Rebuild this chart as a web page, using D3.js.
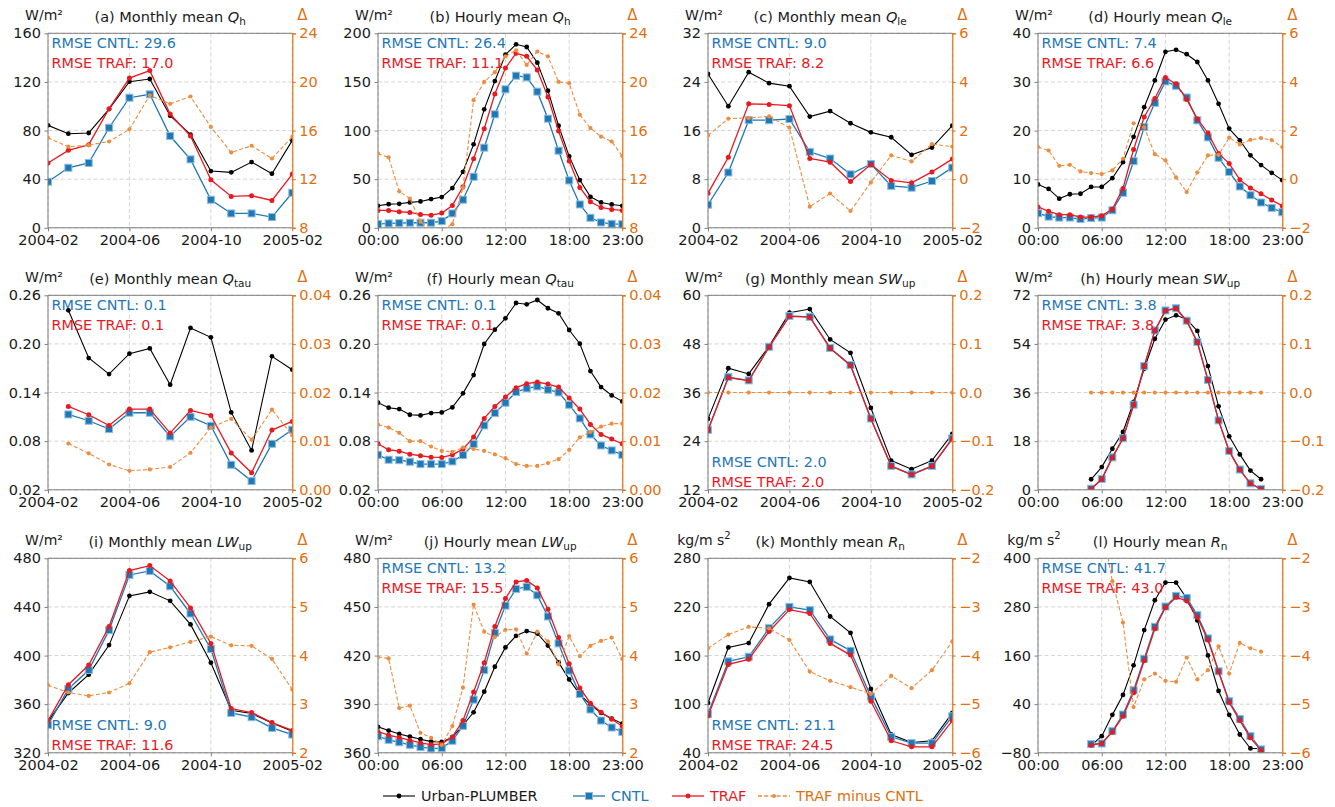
<!DOCTYPE html>
<html>
<head>
<meta charset="utf-8">
<script src="https://cdn.jsdelivr.net/npm/d3@7"></script>
<style>
  body { margin: 0; background: #fff; }
  svg text { font-family: "DejaVu Sans", sans-serif; }
</style>
</head>
<body>
<svg id="chart" width="1335" height="807"></svg>
<script>
// ---- categories --------------------------------------------------------
const months = ['2004-02','2004-03','2004-04','2004-05','2004-06','2004-07','2004-08',
                '2004-09','2004-10','2004-11','2004-12','2005-01','2005-02'];
const hours = d3.range(24).map(h => String(h).padStart(2, '0') + ':00');
const monthTicks = ['2004-02','2004-06','2004-10','2005-02'];
const hourTicks = ['00:00','06:00','12:00','18:00','23:00'];

// ---- sensible heat Q_h ---------------------------------------------------
const qhMonObs  = [84.3, 77.4, 78.0, 97.7, 120.2, 122.4, 92.2, 76.6, 46.7, 45.6, 54.1, 44.5, 71.9];
const qhMonCntl = [37.9, 49.4, 53.3, 82.3, 107.0, 109.8, 75.5, 56.3, 23.1, 11.8, 11.8, 8.8, 28.8];
const qhMonTraf = [53.3, 63.7, 68.4, 98.0, 123.2, 129.3, 93.6, 75.5, 39.5, 25.8, 26.4, 22.5, 44.2];
const qhMonDiff = [15.4, 14.67, 14.8, 15.1, 16.1, 18.9, 18.2, 18.8, 16.3, 14.2, 14.75, 13.7, 15.5];

const qhHourObs  = [22.6, 24.3, 24.7, 26.1, 27.1, 29.5, 31.6, 40.8, 57.6, 85.8, 121.8, 150.9, 178.0, 188.7, 185.9, 169.8, 141.0, 105.0, 73.4, 49.1, 31.9, 26.1, 24.0, 22.6];
const qhHourCntl = [3.8, 4.5, 4.8, 5.2, 5.2, 5.2, 6.9, 14.8, 28.9, 52.5, 82.4, 116.7, 142.4, 156.4, 154.7, 140.0, 112.2, 79.3, 48.7, 24.0, 10.3, 5.5, 4.1, 3.8];
const qhHourTraf = [17.9, 17.9, 16.5, 15.8, 13.7, 13.0, 15.1, 23.0, 42.2, 71.0, 101.9, 137.6, 164.3, 179.4, 176.3, 162.2, 134.4, 99.5, 68.6, 41.5, 26.8, 20.9, 18.9, 17.9];
const qhHourDiff = [14.1, 13.8, 11.0, 10.4, 8.5, 7.7, 7.8, 8.3, 11.3, 18.5, 20.0, 20.8, 22.1, 22.6, 21.4, 22.5, 22.1, 20.0, 19.9, 17.3, 16.2, 15.5, 15.1, 13.9];

// ---- latent heat Q_le ----------------------------------------------------
const qleMonObs  = [25.3, 20.0, 25.6, 23.8, 23.3, 18.3, 19.2, 17.2, 15.7, 14.9, 12.0, 13.2, 16.8];
const qleMonCntl = [3.8, 9.1, 17.7, 17.7, 17.9, 12.5, 11.4, 8.8, 10.5, 6.9, 6.6, 7.7, 9.9];
const qleMonTraf = [5.7, 11.6, 20.4, 20.3, 20.1, 11.4, 10.8, 7.6, 10.4, 7.8, 7.4, 9.2, 11.3];
const qleMonDiff = [1.8, 2.49, 2.52, 2.58, 2.12, -1.13, -0.59, -1.31, -0.13, 0.98, 0.73, 1.44, 1.34];

const qleHourObs  = [8.9, 8.0, 6.0, 6.9, 7.0, 8.4, 8.4, 10.2, 13.5, 18.7, 24.8, 30.3, 36.2, 36.6, 35.7, 34.1, 30.3, 25.5, 20.4, 18.0, 14.9, 12.9, 11.3, 9.8];
const qleHourCntl = [3.0, 2.3, 2.1, 2.1, 1.8, 2.0, 2.1, 3.6, 7.2, 13.7, 20.7, 25.7, 30.1, 29.2, 26.8, 22.1, 18.6, 14.4, 11.5, 8.5, 6.7, 5.2, 4.1, 3.2];
const qleHourTraf = [4.3, 3.4, 2.7, 2.7, 2.2, 2.2, 2.5, 3.8, 8.1, 16.1, 22.8, 26.6, 30.9, 29.6, 26.4, 22.4, 19.5, 15.3, 13.2, 9.9, 8.2, 7.0, 5.7, 4.5];
const qleHourDiff = [1.32, 1.18, 0.55, 0.59, 0.32, 0.25, 0.21, 0.36, 0.84, 2.3, 2.13, 1.03, 0.77, 0.07, -0.53, 0.28, 0.98, 1.0, 1.71, 1.43, 1.62, 1.69, 1.61, 1.32];

// ---- momentum flux Q_tau -------------------------------------------------
const qtauMonObs  = [null, 0.2415, 0.1826, 0.1628, 0.188, 0.1945, 0.1497, 0.2197, 0.2081, 0.1155, 0.0686, 0.1847, 0.1682];
const qtauMonCntl = [null, 0.113, 0.1052, 0.0949, 0.1151, 0.1151, 0.0859, 0.1101, 0.099, 0.0509, 0.0307, 0.0768, 0.0941];
const qtauMonTraf = [null, 0.1229, 0.1126, 0.0994, 0.1196, 0.1196, 0.09, 0.118, 0.1118, 0.0653, 0.041, 0.0937, 0.1044];
const qtauMonDiff = [null, 0.0095, 0.0075, 0.0052, 0.0039, 0.0042, 0.0047, 0.0076, 0.0128, 0.0146, 0.0103, 0.0165, 0.0112];

const qtauHourObs  = [0.1274, 0.1213, 0.1196, 0.1126, 0.1118, 0.1147, 0.1155, 0.1217, 0.139, 0.1616, 0.1999, 0.2176, 0.2316, 0.2505, 0.2489, 0.2542, 0.244, 0.2378, 0.2172, 0.2003, 0.1665, 0.1468, 0.1365, 0.1291];
const qtauHourCntl = [0.0632, 0.0571, 0.0566, 0.0546, 0.0517, 0.0517, 0.0517, 0.055, 0.0628, 0.0764, 0.0994, 0.1147, 0.1274, 0.1406, 0.1451, 0.1476, 0.1435, 0.1402, 0.1249, 0.1081, 0.0883, 0.0747, 0.0686, 0.0632];
const qtauHourTraf = [0.0768, 0.0694, 0.0677, 0.064, 0.062, 0.0603, 0.0599, 0.0632, 0.0702, 0.085, 0.1081, 0.1229, 0.1344, 0.146, 0.1509, 0.153, 0.1505, 0.1468, 0.1332, 0.1196, 0.1007, 0.0883, 0.0826, 0.0768];
const qtauHourDiff = [0.0134, 0.0128, 0.0117, 0.0100, 0.0100, 0.0089, 0.0080, 0.0078, 0.0087, 0.0084, 0.0080, 0.0073, 0.0065, 0.0053, 0.0049, 0.0049, 0.0055, 0.0063, 0.0082, 0.0108, 0.0119, 0.0130, 0.0136, 0.0136];

// ---- upward shortwave SW_up ----------------------------------------------
const swMonObs  = [29.5, 42.0, 40.6, 47.4, 55.7, 56.6, 49.1, 45.8, 32.2, 19.2, 17.1, 19.2, 25.8];
const swMonCntl = [26.8, 39.8, 39.0, 47.3, 54.9, 54.7, 47.0, 42.8, 29.6, 17.9, 15.8, 17.9, 24.7];
const swMonTraf = [26.7, 39.7, 38.9, 47.2, 54.8, 54.6, 46.9, 42.7, 29.5, 17.8, 15.7, 17.8, 24.6];
const swMonDiff = [0.0, 0.0, 0.0, 0.0, 0.0, 0.0, 0.0, 0.0, 0.0, 0.0, 0.0, 0.0, 0.0];

const swHourObs  = [null, null, null, null, null, 3.9, 8.4, 15.2, 21.4, 32.5, 44.8, 55.9, 63.0, 64.6, 63.1, 58.8, 45.8, 30.9, 19.8, 13.1, 7.1, 3.9, null, null];
const swHourCntl = [null, null, null, null, null, 0.4, 4.0, 12.0, 19.1, 31.5, 45.8, 59.0, 66.4, 67.2, 62.6, 54.7, 40.7, 25.7, 14.4, 7.5, 2.4, 0.3, null, null];
const swHourTraf = [null, null, null, null, null, 0.3, 3.9, 11.9, 19.0, 31.4, 45.7, 58.9, 66.3, 67.1, 62.5, 54.6, 40.6, 25.6, 14.3, 7.4, 2.3, 0.2, null, null];
const swHourDiff = [null, null, null, null, null, 0.0, 0.0, 0.0, 0.0, 0.0, 0.0, 0.0, 0.0, 0.0, 0.0, 0.0, 0.0, 0.0, 0.0, 0.0, 0.0, 0.0, null, null];

// ---- upward longwave LW_up -----------------------------------------------
const lwMonObs  = [345.7, 369.2, 384.3, 408.6, 449.1, 452.4, 445.0, 425.6, 394.1, 355.0, 352.3, 344.6, 337.8];
const lwMonCntl = [343.0, 372.5, 388.1, 420.9, 466.3, 469.6, 457.0, 434.6, 405.4, 352.8, 349.3, 340.5, 335.0];
const lwMonTraf = [346.5, 376.0, 392.2, 423.9, 469.9, 474.0, 461.4, 439.2, 410.0, 356.4, 353.1, 344.9, 338.4];
const lwMonDiff = [3.39, 3.24, 3.17, 3.24, 3.43, 4.07, 4.17, 4.28, 4.39, 4.21, 4.2, 3.93, 3.3];

const lwHourObs  = [376.0, 373.7, 371.6, 370.0, 368.4, 366.9, 366.7, 369.6, 377.0, 385.0, 397.7, 413.1, 425.0, 432.2, 435.1, 433.6, 426.2, 415.8, 405.3, 396.1, 389.7, 384.6, 381.1, 378.0];
const lwHourCntl = [370.2, 368.0, 366.5, 364.9, 363.5, 362.7, 362.9, 367.4, 376.6, 392.8, 411.0, 434.0, 450.8, 461.1, 462.4, 457.2, 444.1, 427.5, 410.7, 396.3, 386.7, 379.9, 375.6, 372.9];
const lwHourTraf = [373.1, 370.9, 369.4, 367.8, 366.1, 365.1, 365.5, 369.8, 379.9, 397.5, 415.6, 437.9, 455.2, 465.4, 466.3, 461.7, 448.6, 431.2, 415.0, 400.0, 390.6, 385.0, 380.7, 376.4];
const lwHourDiff = [3.97, 3.94, 2.92, 2.97, 2.41, 2.31, 2.16, 2.55, 3.34, 5.05, 4.49, 4.38, 4.53, 4.54, 4.04, 4.49, 4.29, 3.82, 4.4, 3.99, 4.2, 4.3, 4.37, 3.93];

// ---- net radiation R_n ---------------------------------------------------
const rnMonObs  = [101.5, 170.0, 175.4, 223.4, 255.8, 250.9, 208.2, 188.1, 118.8, 62.6, 52.7, 54.8, 89.2];
const rnMonCntl = [88.0, 152.8, 158.5, 193.8, 220.1, 216.0, 179.9, 165.9, 109.3, 59.7, 51.9, 51.9, 85.1];
const rnMonTraf = [85.4, 149.1, 155.3, 189.7, 216.7, 211.9, 175.0, 160.6, 103.6, 54.8, 47.4, 47.4, 79.8];
const rnMonDiff = [-3.85, -3.57, -3.41, -3.44, -3.68, -4.33, -4.52, -4.65, -4.79, -4.42, -4.67, -4.3, -3.71];

const rnHourObs  = [null, null, null, null, null, -61.9, -38.9, 13.6, 62.8, 135.9, 222.8, 296.6, 340.1, 340.1, 300.7, 246.6, 160.4, 72.6, 13.6, -34.8, -69.3, -69.3, null, null];
const rnHourCntl = [null, null, null, null, null, -58.6, -57.0, -26.6, 14.4, 74.3, 152.2, 231.0, 281.0, 307.3, 302.4, 259.7, 202.3, 121.1, 47.2, 3.7, -38.9, -71.7, null, null];
const rnHourTraf = [null, null, null, null, null, -61.1, -57.0, -29.1, 10.3, 68.5, 147.3, 226.0, 278.5, 303.9, 294.9, 254.8, 198.1, 120.2, 43.9, -0.4, -43.0, -74.2, null, null];
const rnHourDiff = [null, null, null, null, null, -0.5, -1.3, -2.47, -3.32, -5.06, -4.49, -4.37, -4.52, -4.54, -4.04, -4.49, -4.3, -3.81, -4.37, -3.74, -3.85, -3.92, null, null];

// ---- error scores (CNTL, TRAF) -----------------------------------------
const rmseQhMon = [29.6, 17.0], rmseQhHour = [26.4, 11.1];
const rmseQleMon = [9.0, 8.2], rmseQleHour = [7.4, 6.6];
const rmseQtauMon = [0.1, 0.1], rmseQtauHour = [0.1, 0.1];
const rmseSwMon = [2.0, 2.0], rmseSwHour = [3.8, 3.8];
const rmseLwMon = [9.0, 11.6], rmseLwHour = [13.2, 15.5];
const rmseRnMon = [21.1, 24.5], rmseRnHour = [41.7, 43.0];

// ---- panel definitions -------------------------------------------------
const panels = [
  { tag: '(a) Monthly mean ', sym: 'Q', sub: 'h', unit: 'W', kind: 'month', yDom: [0, 160], yTicks: [0, 40, 80, 120, 160], yFmt: 'd', rDom: [8, 24], rTicks: [8, 12, 16, 20, 24], rFmt: 'd', s: [qhMonObs, qhMonCntl, qhMonTraf, qhMonDiff], rmse: rmseQhMon, rmseAt: 'top' },
  { tag: '(b) Hourly mean ', sym: 'Q', sub: 'h', unit: 'W', kind: 'hour', yDom: [0, 200], yTicks: [0, 50, 100, 150, 200], yFmt: 'd', rDom: [8, 24], rTicks: [8, 12, 16, 20, 24], rFmt: 'd', s: [qhHourObs, qhHourCntl, qhHourTraf, qhHourDiff], rmse: rmseQhHour, rmseAt: 'top' },
  { tag: '(c) Monthly mean ', sym: 'Q', sub: 'le', unit: 'W', kind: 'month', yDom: [0, 32], yTicks: [0, 8, 16, 24, 32], yFmt: 'd', rDom: [-2, 6], rTicks: [-2, 0, 2, 4, 6], rFmt: 'd', s: [qleMonObs, qleMonCntl, qleMonTraf, qleMonDiff], rmse: rmseQleMon, rmseAt: 'top' },
  { tag: '(d) Hourly mean ', sym: 'Q', sub: 'le', unit: 'W', kind: 'hour', yDom: [0, 40], yTicks: [0, 10, 20, 30, 40], yFmt: 'd', rDom: [-2, 6], rTicks: [-2, 0, 2, 4, 6], rFmt: 'd', s: [qleHourObs, qleHourCntl, qleHourTraf, qleHourDiff], rmse: rmseQleHour, rmseAt: 'top' },
  { tag: '(e) Monthly mean ', sym: 'Q', sub: 'tau', unit: 'W', kind: 'month', yDom: [0.02, 0.26], yTicks: [0.02, 0.08, 0.14, 0.20, 0.26], yFmt: '.2f', rDom: [0, 0.04], rTicks: [0, 0.01, 0.02, 0.03, 0.04], rFmt: '.2f', s: [qtauMonObs, qtauMonCntl, qtauMonTraf, qtauMonDiff], rmse: rmseQtauMon, rmseAt: 'top' },
  { tag: '(f) Hourly mean ', sym: 'Q', sub: 'tau', unit: 'W', kind: 'hour', yDom: [0.02, 0.26], yTicks: [0.02, 0.08, 0.14, 0.20, 0.26], yFmt: '.2f', rDom: [0, 0.04], rTicks: [0, 0.01, 0.02, 0.03, 0.04], rFmt: '.2f', s: [qtauHourObs, qtauHourCntl, qtauHourTraf, qtauHourDiff], rmse: rmseQtauHour, rmseAt: 'top' },
  { tag: '(g) Monthly mean ', sym: 'SW', sub: 'up', unit: 'W', kind: 'month', yDom: [12, 60], yTicks: [12, 24, 36, 48, 60], yFmt: 'd', rDom: [-0.2, 0.2], rTicks: [-0.2, -0.1, 0, 0.1, 0.2], rFmt: '.1f', s: [swMonObs, swMonCntl, swMonTraf, swMonDiff], rmse: rmseSwMon, rmseAt: 'bottom' },
  { tag: '(h) Hourly mean ', sym: 'SW', sub: 'up', unit: 'W', kind: 'hour', yDom: [0, 72], yTicks: [0, 18, 36, 54, 72], yFmt: 'd', rDom: [-0.2, 0.2], rTicks: [-0.2, -0.1, 0, 0.1, 0.2], rFmt: '.1f', s: [swHourObs, swHourCntl, swHourTraf, swHourDiff], rmse: rmseSwHour, rmseAt: 'top' },
  { tag: '(i) Monthly mean ', sym: 'LW', sub: 'up', unit: 'W', kind: 'month', yDom: [320, 480], yTicks: [320, 360, 400, 440, 480], yFmt: 'd', rDom: [2, 6], rTicks: [2, 3, 4, 5, 6], rFmt: 'd', s: [lwMonObs, lwMonCntl, lwMonTraf, lwMonDiff], rmse: rmseLwMon, rmseAt: 'bottom' },
  { tag: '(j) Hourly mean ', sym: 'LW', sub: 'up', unit: 'W', kind: 'hour', yDom: [360, 480], yTicks: [360, 390, 420, 450, 480], yFmt: 'd', rDom: [2, 6], rTicks: [2, 3, 4, 5, 6], rFmt: 'd', s: [lwHourObs, lwHourCntl, lwHourTraf, lwHourDiff], rmse: rmseLwHour, rmseAt: 'top' },
  { tag: '(k) Monthly mean ', sym: 'R', sub: 'n', unit: 'kg', kind: 'month', yDom: [40, 280], yTicks: [40, 100, 160, 220, 280], yFmt: 'd', rDom: [-6, -2], rTicks: [-6, -5, -4, -3, -2], rFmt: 'd', s: [rnMonObs, rnMonCntl, rnMonTraf, rnMonDiff], rmse: rmseRnMon, rmseAt: 'bottom' },
  { tag: '(l) Hourly mean ', sym: 'R', sub: 'n', unit: 'kg', kind: 'hour', yDom: [-80, 400], yTicks: [-80, 40, 160, 280, 400], yFmt: 'd', rDom: [-6, -2], rTicks: [-6, -5, -4, -3, -2], rFmt: 'd', s: [rnHourObs, rnHourCntl, rnHourTraf, rnHourDiff], rmse: rmseRnHour, rmseAt: 'top' }
];

// ---- layout & style -----------------------------------------------------
const colLeft = [48, 378, 708, 1038];
const rowTop = [33.3, 295.3, 558.3];
const W = 244.3, H = 194.5;
const C = {
  obs: '#000000', cntl: '#1f77b4', cntlEdge: '#8cbde0', traf: '#e8191f',
  diff: '#ec8d40', diffAxis: '#e0700f', spine: '#7f7f7f', grid: '#cfcfcf', text: '#1a1a1a'
};
const tickFont = 14.5;

const svg = d3.select('#chart');
svg.append('rect').attr('width', 1335).attr('height', 807).attr('fill', '#fff');

panels.forEach((p, i) => drawPanel(p, i % 4, Math.floor(i / 4), i));

function drawPanel(p, col, row, idx) {
  const g = svg.append('g').attr('transform', `translate(${colLeft[col]},${rowTop[row]})`);
  const cats = p.kind === 'month' ? months : hours;
  const tickCats = p.kind === 'month' ? monthTicks : hourTicks;
  const x = d3.scalePoint().domain(cats).range([0, W]);
  const y = d3.scaleLinear().domain(p.yDom).range([H, 0]);
  const yr = d3.scaleLinear().domain(p.rDom).range([H, 0]);

  const clipId = 'clip' + idx;
  g.append('clipPath').attr('id', clipId).append('rect').attr('width', W).attr('height', H);

  // grid
  const grid = g.append('g');
  tickCats.forEach(c => grid.append('line').attr('x1', x(c)).attr('x2', x(c)).attr('y1', 0).attr('y2', H));
  p.yTicks.forEach(v => grid.append('line').attr('x1', 0).attr('x2', W).attr('y1', y(v)).attr('y2', y(v)));
  grid.selectAll('line').attr('stroke', C.grid).attr('stroke-width', 0.9).attr('stroke-dasharray', '4,2.5');

  const plot = g.append('g').attr('clip-path', `url(#${clipId})`);
  const pts = arr => arr.map((v, k) => ({ c: cats[k], v })).filter(d => d.v !== null);
  const mkLine = sc => d3.line().x(d => x(d.c)).y(d => sc(d.v));

  const [obs, cntl, traf, diff] = p.s;

  // observations
  plot.append('path').datum(pts(obs)).attr('d', mkLine(y)).attr('fill', 'none').attr('stroke', C.obs).attr('stroke-width', 1.1);
  plot.selectAll(null).data(pts(obs)).enter().append('circle')
    .attr('cx', d => x(d.c)).attr('cy', d => y(d.v)).attr('r', 2.4).attr('fill', C.obs);

  // CNTL
  plot.append('path').datum(pts(cntl)).attr('d', mkLine(y)).attr('fill', 'none').attr('stroke', C.cntl).attr('stroke-width', 1.3);
  plot.selectAll(null).data(pts(cntl)).enter().append('rect')
    .attr('x', d => x(d.c) - 3.5).attr('y', d => y(d.v) - 3.5).attr('width', 7).attr('height', 7)
    .attr('fill', C.cntl).attr('stroke', C.cntlEdge).attr('stroke-width', 1);

  // TRAF
  plot.append('path').datum(pts(traf)).attr('d', mkLine(y)).attr('fill', 'none').attr('stroke', C.traf).attr('stroke-width', 1.3);
  plot.selectAll(null).data(pts(traf)).enter().append('circle')
    .attr('cx', d => x(d.c)).attr('cy', d => y(d.v)).attr('r', 2.5).attr('fill', C.traf);

  // frame (left, top, bottom)
  g.append('path').attr('d', `M${W},0H0V${H}H${W}`).attr('fill', 'none').attr('stroke', C.spine).attr('stroke-width', 1);

  // TRAF minus CNTL on the secondary axis
  const plot2 = g.append('g').attr('clip-path', `url(#${clipId})`);
  plot2.append('path').datum(pts(diff)).attr('d', mkLine(yr)).attr('fill', 'none')
    .attr('stroke', C.diff).attr('stroke-width', 1.1).attr('stroke-dasharray', '4,2.2');
  plot2.selectAll(null).data(pts(diff)).enter().append('circle')
    .attr('cx', d => x(d.c)).attr('cy', d => yr(d.v)).attr('r', 2.1).attr('fill', C.diff);

  // axes
  const ax = g.append('g').attr('transform', `translate(0,${H})`)
    .call(d3.axisBottom(x).tickValues(tickCats).tickSize(3.5).tickPadding(3));
  ax.select('.domain').remove();
  ax.selectAll('line').attr('stroke', C.spine);
  ax.selectAll('text').attr('font-size', tickFont).attr('fill', C.text);

  const ay = g.append('g').call(d3.axisLeft(y).tickValues(p.yTicks).tickFormat(d3.format(p.yFmt)).tickSize(3.5).tickPadding(3.5));
  ay.select('.domain').remove();
  ay.selectAll('line').attr('stroke', C.spine);
  ay.selectAll('text').attr('font-size', tickFont).attr('fill', C.text);

  const ar = g.append('g').attr('transform', `translate(${W},0)`)
    .call(d3.axisRight(yr).tickValues(p.rTicks).tickFormat(d3.format(p.rFmt)).tickSize(3.5).tickPadding(3.5));
  ar.select('.domain').attr('stroke', C.diffAxis).attr('stroke-width', 1.2);
  ar.selectAll('line').attr('stroke', C.diffAxis);
  ar.selectAll('text').attr('font-size', tickFont).attr('fill', C.diffAxis);

  // title
  const t = g.append('text').attr('x', W / 2).attr('y', -11).attr('text-anchor', 'middle')
    .attr('font-size', 14.5).attr('fill', C.text);
  t.append('tspan').text(p.tag);
  t.append('tspan').attr('font-style', 'italic').text(p.sym);
  t.append('tspan').attr('font-size', 10.5).attr('dy', 3).text(p.sub);

  // unit label
  const u = g.append('text').attr('x', -4).attr('y', -13).attr('text-anchor', 'middle')
    .attr('font-size', 14).attr('fill', C.text);
  if (p.unit === 'W') {
    u.text('W/m²');
  } else {
    u.append('tspan').text('kg/m s');
    u.append('tspan').attr('font-size', 10).attr('dy', -6).text('2');
  }
  g.append('text').attr('x', W + 10).attr('y', -13).attr('text-anchor', 'middle')
    .attr('font-size', 15).attr('fill', C.diffAxis).text('Δ');

  // RMSE annotations
  const yA = p.rmseAt === 'top' ? 15 : H - 23;
  g.append('text').attr('x', 3.5).attr('y', yA).attr('font-size', 14.4).attr('fill', C.cntl)
    .text('RMSE CNTL: ' + p.rmse[0].toFixed(1));
  g.append('text').attr('x', 3.5).attr('y', yA + 20).attr('font-size', 14.4).attr('fill', C.traf)
    .text('RMSE TRAF: ' + p.rmse[1].toFixed(1));
}

// ---- legend ----------------------------------------------------------------
const legendItems = [
  { label: 'Urban-PLUMBER', key: 'obs', x: 383 },
  { label: 'CNTL', key: 'cntl', x: 573 },
  { label: 'TRAF', key: 'traf', x: 672 },
  { label: 'TRAF minus CNTL', key: 'diff', x: 758 }
];
const legendText = { obs: C.text, cntl: C.cntl, traf: C.traf, diff: C.diffAxis };
const lg = svg.append('g').attr('transform', 'translate(0,796)');
legendItems.forEach(it => {
  const col = C[it.key];
  const ln = lg.append('line').attr('x1', it.x).attr('x2', it.x + 32).attr('y1', 0).attr('y2', 0)
    .attr('stroke', col).attr('stroke-width', it.key === 'obs' ? 1.1 : 1.3);
  if (it.key === 'diff') ln.attr('stroke-dasharray', '4,2.2');
  const cx = it.x + 16;
  if (it.key === 'cntl') {
    lg.append('rect').attr('x', cx - 3.5).attr('y', -3.5).attr('width', 7).attr('height', 7)
      .attr('fill', C.cntl).attr('stroke', C.cntlEdge);
  } else {
    lg.append('circle').attr('cx', cx).attr('cy', 0).attr('r', it.key === 'diff' ? 2.1 : 2.4).attr('fill', col);
  }
  lg.append('text').attr('x', it.x + 38).attr('y', 5).attr('font-size', 14.4)
    .attr('fill', legendText[it.key]).text(it.label);
});
</script>
</body>
</html>
